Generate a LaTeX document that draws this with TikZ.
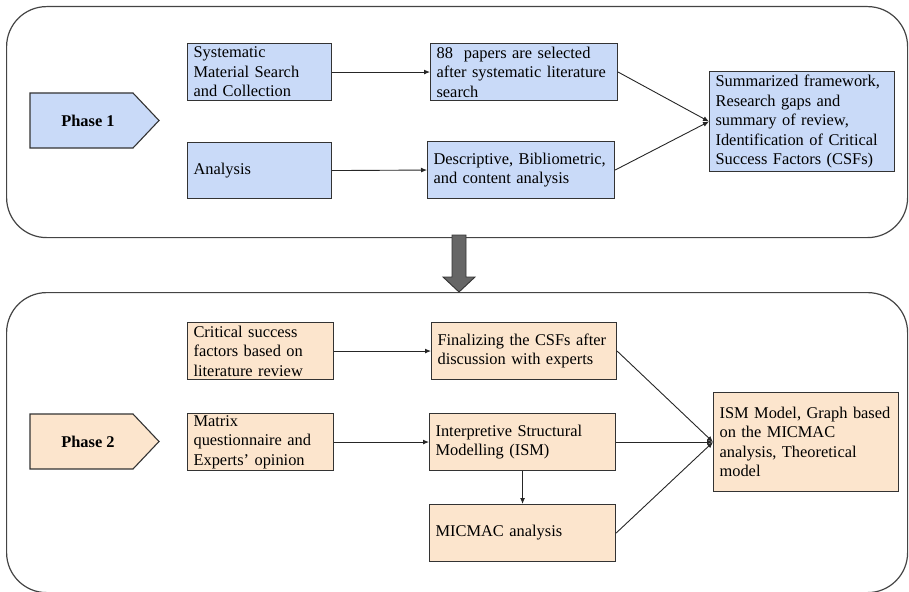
\documentclass[tikz,border=0pt]{standalone}
\usepackage{fontspec}
\setmainfont{Liberation Serif}
\usetikzlibrary{arrows.meta}
\definecolor{bluefill}{HTML}{C9DAF8}
\definecolor{orangefill}{HTML}{FCE5CD}
\definecolor{edge}{HTML}{333333}
\definecolor{frame}{HTML}{444444}
\definecolor{bigarrow}{HTML}{666666}
\begin{document}
\begin{tikzpicture}[x=1pt,y=-1pt,
  txt/.style={font=\fontsize{16.4}{19.5}\selectfont},
  box/.style={txt, draw=edge, line width=1.1pt, inner xsep=6pt, inner ysep=0pt,
    align=left, anchor=north west},
  bbox/.style={box, fill=bluefill},
  obox/.style={box, fill=orangefill},
  container/.style={draw=frame, line width=1.2pt, rounded corners=40pt, anchor=north west, inner sep=0pt},
  phase/.style={draw=edge, line width=1.1pt},
  phasetext/.style={font=\bfseries\fontsize{16.4}{19.5}\selectfont},
  arr/.style={draw=black!85, line width=0.9pt, -{Latex[length=6pt,width=5pt]}},
]
\useasboundingbox (0,0) rectangle (909,591);

% containers
\node[container, minimum width=901pt, minimum height=231pt] (c1) at (6,6) {};
\node[container, minimum width=901pt, minimum height=300pt] (c2) at (6,292) {};

% big arrow
\draw[fill=bigarrow, draw=edge, line width=0.9pt]
  (452,235) -- (466,235) -- (466,277) -- (475,277) -- (459,292) -- (443,277) -- (452,277) -- cycle;

% Phase 1
\draw[phase, fill=bluefill] (30,93) -- (133,93) -- (159,120.5) -- (133,148) -- (30,148) -- cycle;
\node[phasetext] (ph1) at (88,120.5) {Phase 1};

\node[bbox, text width=132pt, minimum height=57pt] (sys) at (187,43)
  {Systematic\\Material Search\\and Collection};
\node[bbox, text width=132pt, minimum height=56pt] (ana) at (187,142) {Analysis};
\node[bbox, text width=175pt, minimum height=57pt] (pap) at (430,43)
  {88~ papers are selected\\after systematic literature\\search};
\node[bbox, text width=175pt, minimum height=57pt] (des) at (427,141)
  {Descriptive, Bibliometric,\\and content analysis};
\node[bbox, text width=173pt, minimum height=100pt] (sum) at (709,71)
  {Summarized framework,\\Research gaps and\\summary of review,\\Identification of Critical\\Success Factors (CSFs)};

\draw[arr] (sys.east) -- (pap.west);
\draw[arr] (ana.east) -- (des.west);
\draw[arr] (pap.east) -- (sum.west);
\draw[arr] (des.east) -- (sum.west);

% Phase 2
\draw[phase, fill=orangefill] (30,414) -- (133,414) -- (159,441.5) -- (133,469) -- (30,469) -- cycle;
\node[phasetext] (ph2) at (88,441.5) {Phase 2};

\node[obox, text width=134pt, minimum height=57pt] (crit) at (187,322)
  {Critical success\\factors based on\\literature review};
\node[obox, text width=134pt, minimum height=57pt] (mat) at (187,413)
  {Matrix\\questionnaire and\\Experts' opinion};
\node[obox, text width=173pt, minimum height=57pt] (fin) at (431,322)
  {Finalizing the CSFs after\\discussion with experts};
\node[obox, text width=174pt, minimum height=57pt] (ism) at (429,413)
  {Interpretive Structural\\Modelling (ISM)};
\node[obox, text width=174pt, minimum height=57pt] (mic) at (429,504)
  {MICMAC analysis};
\node[obox, text width=173pt, minimum height=99pt] (res) at (713,392)
  {ISM Model, Graph based\\on the MICMAC\\analysis, Theoretical\\model};

\draw[arr] (crit.east) -- (fin.west);
\draw[arr] (mat.east) -- (ism.west);
\draw[arr] (fin.east) -- (res.west);
\draw[arr] (ism.east) -- (res.west);
\draw[arr] (mic.east) -- (res.west);
\draw[arr] (ism.south) -- (mic.north);
\end{tikzpicture}
\end{document}
